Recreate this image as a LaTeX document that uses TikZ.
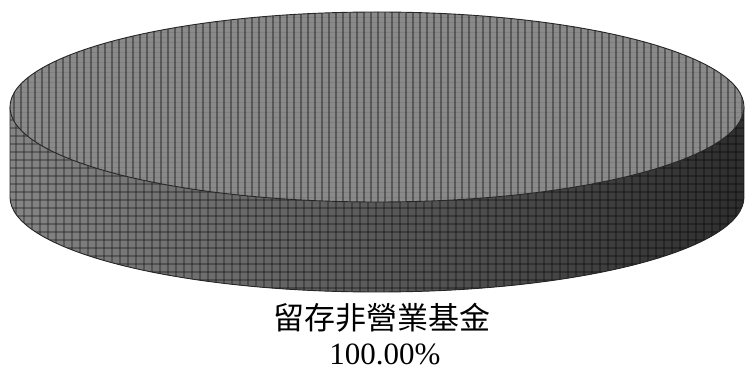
\documentclass[tikz,border=0pt]{standalone}
\usepackage{fontspec}
\setmainfont{Liberation Serif}
\newfontfamily\cjk{Noto Sans CJK TC}
\usepackage{tikz}
\usetikzlibrary{calc}
\tikzstyle{topface} = [fill=gray!92!white]
\tikzstyle{sideface} = [left color=gray!95!white, right color=black!82]
\tikzstyle{rim} = [draw=black!85, line width=0.9pt]
\tikzstyle{piecaption} = [font=\fontsize{31}{36}\selectfont, inner sep=0pt]
\newcommand{\rx}{367}
\newcommand{\ry}{95}

\begin{document}
\begin{tikzpicture}[x=1pt, y=1pt]
	\useasboundingbox (0,0) rectangle (745,372);
	\coordinate (ctop) at (377,265);
	\coordinate (cbot) at (377,175);
	
	% side of the cylinder
	\begin{scope}
		\clip (10,265) -- (10,175) arc [start angle=180, end angle=360, x radius=\rx, y radius=\ry]
			-- (744,265) arc [start angle=0, end angle=-180, x radius=\rx, y radius=\ry] -- cycle;
		\fill[sideface] (0,60) rectangle (745,270);
		\foreach \x in {0,8,...,745}
			\draw[black, line width=1.6pt, opacity=0.28] (\x,60) -- (\x,270);
		\foreach \y in {60,68,...,270}
			\draw[black, line width=1.6pt, opacity=0.28] (0,\y) -- (745,\y);
	\end{scope}
	\draw[rim] (10,265) -- (10,175) arc [start angle=180, end angle=360, x radius=\rx, y radius=\ry]
		-- (744,265);
	
	% top face
	\begin{scope}
		\clip (ctop) ellipse [x radius=\rx, y radius=\ry];
		\fill[topface] (0,160) rectangle (745,372);
		\foreach \x in {0,7,...,745}
			\draw[black, line width=2.2pt, opacity=0.35] (\x,160) -- (\x,372);
		\foreach \y in {160,165,...,372}
			\draw[black, line width=0.4pt, opacity=0.08] (0,\y) -- (745,\y);
	\end{scope}
	\draw[rim] (ctop) ellipse [x radius=\rx, y radius=\ry];
	
	\node (name)[piecaption] at (382,54) {\cjk 留存非營業基金};
	\node (share)[piecaption] at (385,18) {100.00\%};
\end{tikzpicture}
\end{document}
